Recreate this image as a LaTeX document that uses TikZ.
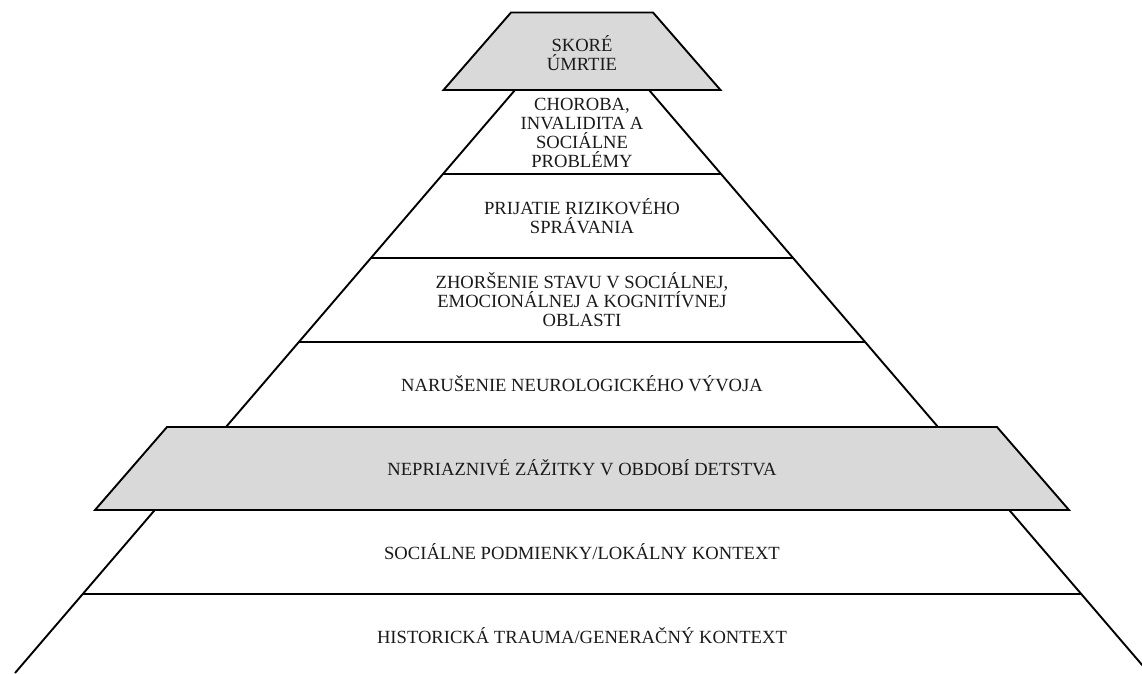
\documentclass[tikz,border=0pt]{standalone}
\usepackage{fontspec}
\setmainfont{Liberation Serif}
\usepackage{tikz}
\usepackage{xcolor}
\definecolor{FontColor}{HTML}{1A1A1A}
\definecolor{GrayNC}{HTML}{D9D9D9}
\newcommand\nodeskore{SKORÉ\\ÚMRTIE}
\newcommand\nodechor{CHOROBA,\\INVALIDITA A\\SOCIÁLNE\\PROBLÉMY}
\newcommand\nodeprij{PRIJATIE RIZIKOVÉHO\\SPRÁVANIA}
\newcommand\nodezhor{ZHORŠENIE STAVU V SOCIÁLNEJ,\\EMOCIONÁLNEJ A KOGNITÍVNEJ\\OBLASTI}
\newcommand\nodenaru{NARUŠENIE NEUROLOGICKÉHO VÝVOJA}
\newcommand\nodenepr{NEPRIAZNIVÉ ZÁŽITKY V OBDOBÍ DETSTVA}
\newcommand\nodesoc{SOCIÁLNE PODMIENKY/LOKÁLNY KONTEXT}
\newcommand\nodehist{HISTORICKÁ TRAUMA/GENERAČNÝ KONTEXT}
\tikzstyle{mytextstyle} = [align=center, inner sep=0pt, text=FontColor, font=\fontsize{18.6}{19}\selectfont]
\tikzstyle{gl} = [draw=black, fill=GrayNC]
\tikzset{every picture/.style={line width=1.9pt}}

\begin{document}
\begin{tikzpicture}[x=1pt, y=-1pt, line join=miter]
\useasboundingbox (0,0) rectangle (1142,673);
\clip (0,0) rectangle (1142,673);
\coordinate (tl) at (515,90);
\coordinate (tr) at (649,90);
\coordinate (bl) at (15,673);
\coordinate (br) at (1149,673);
\draw (tl) -- (bl);
\draw (tr) -- (br);
\draw (443,174) -- (721,174);
\draw (371,258) -- (793,258);
\draw (299,342) -- (865,342);
\draw (83,594) -- (1081,594);
\draw[gl] (511,12.5) -- (653,12.5) -- (720.5,90) -- (443.5,90) -- cycle;
\draw[gl] (167,427) -- (997,427) -- (1069,510) -- (95,510) -- cycle;
\node[mytextstyle] (skore) at (582,53) {\nodeskore};
\node[mytextstyle] (chor) at (582,133) {\nodechor};
\node[mytextstyle] (prij) at (582,216) {\nodeprij};
\node[mytextstyle] (zhor) at (582,300) {\nodezhor};
\node[mytextstyle] (naru) at (582,384) {\nodenaru};
\node[mytextstyle] (nepr) at (582,468) {\nodenepr};
\node[mytextstyle] (soc) at (582,552) {\nodesoc};
\node[mytextstyle] (hist) at (582,636) {\nodehist};
\end{tikzpicture}
\end{document}
